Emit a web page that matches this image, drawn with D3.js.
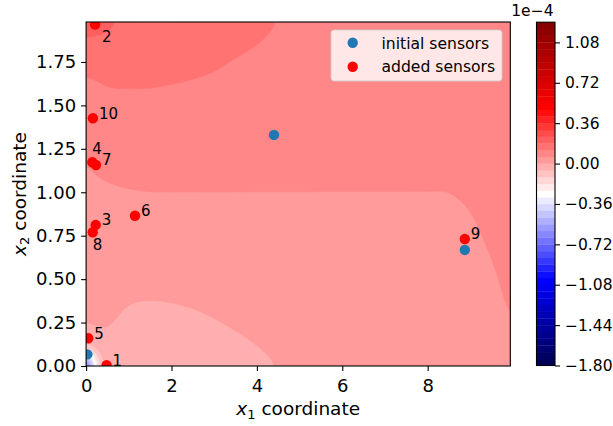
<!DOCTYPE html>
<html>
<head>
<meta charset="utf-8">
<script src="https://cdn.jsdelivr.net/npm/d3@7"></script>
<style>
  body { margin: 0; background: #fff; }
  svg { display: block; }
  text { font-family: "DejaVu Sans", sans-serif; fill: #000; white-space: pre; }
</style>
</head>
<body>
<svg id="chart" width="613" height="426"></svg>
<script>
// Sensitivity field (units of 1e-4) sampled on a coarse grid: one row per y node.
const xNodes = [0, 0.2, 0.5, 1, 1.5, 2, 2.5, 3, 3.5, 4, 4.5, 5, 5.5, 6, 6.5, 7, 7.5, 8, 8.5, 9, 9.5, 10];
const yNodes = [0, 0.1, 0.25, 0.5, 0.75, 1.0, 1.25, 1.5, 1.75, 2.0];
const fieldRows = [
  [-1.2, -0.15, -0.019, -0.035, -0.038, -0.036, -0.0325, -0.027, -0.019, -0.011, 0.0012, 0.008, 0.01, 0.01, 0.01, 0.01, 0.01, 0.01, 0.012, 0.015, 0.025, 0.075],
  [-0.06, -0.03, -0.009, -0.025, -0.028, -0.026, -0.0225, -0.017, -0.009, -0.001, 0.007, 0.013, 0.015, 0.015, 0.015, 0.015, 0.015, 0.015, 0.017, 0.02, 0.0306, 0.057],
  [0.003, 0.006, 0.004, -0.010, -0.013, -0.011, -0.0075, -0.002, 0.0044, 0.0094, 0.0159, 0.021, 0.0225, 0.0225, 0.0225, 0.0225, 0.0225, 0.0225, 0.024, 0.0276, 0.0391, 0.065],
  [0.018, 0.021, 0.021, 0.013, 0.012, 0.013, 0.0156, 0.019, 0.023, 0.0263, 0.0306, 0.034, 0.035, 0.035, 0.035, 0.035, 0.035, 0.035, 0.036, 0.0397, 0.0532, 0.075],
  [0.033, 0.036, 0.038, 0.036, 0.036, 0.037, 0.038, 0.0395, 0.0415, 0.0431, 0.0453, 0.047, 0.0474, 0.0474, 0.0474, 0.0474, 0.0474, 0.0474, 0.048, 0.0521, 0.067, 0.085],
  [0.048, 0.0515, 0.0546, 0.058, 0.0598, 0.0598, 0.0598, 0.0598, 0.0598, 0.0598, 0.0598, 0.0598, 0.0598, 0.0598, 0.0598, 0.0598, 0.0598, 0.0598, 0.0595, 0.065, 0.078, 0.092],
  [0.064, 0.0727, 0.079, 0.084, 0.085, 0.084, 0.083, 0.081, 0.079, 0.0772, 0.0752, 0.074, 0.072, 0.072, 0.072, 0.072, 0.072, 0.072, 0.072, 0.078, 0.086, 0.098],
  [0.0975, 0.098, 0.107, 0.110, 0.110, 0.108, 0.106, 0.103, 0.0985, 0.0945, 0.0903, 0.088, 0.085, 0.085, 0.085, 0.085, 0.085, 0.085, 0.085, 0.09, 0.094, 0.103],
  [0.13, 0.135, 0.14, 0.136, 0.1355, 0.133, 0.1295, 0.125, 0.1177, 0.1117, 0.1055, 0.102, 0.097, 0.097, 0.097, 0.097, 0.097, 0.097, 0.097, 0.1, 0.102, 0.107],
  [0.22, 0.21, 0.2, 0.161, 0.1605, 0.158, 0.1545, 0.150, 0.142, 0.133, 0.1206, 0.114, 0.11, 0.11, 0.11, 0.11, 0.11, 0.11, 0.11, 0.11, 0.11, 0.11]
];

// Contour levels: -1.80 .. 1.26 in steps of 0.06
const levelMin = -1.80, levelStep = 0.06, levelCount = 52;

// Sensor locations (x1, x2)
const initialSensors = [[4.40, 1.33], [8.87, 0.668], [0.03, 0.067]];
const addedSensors = [
  [0.48, 0.005], [0.21, 1.965], [0.225, 0.812], [0.145, 1.173], [0.05, 0.16],
  [1.145, 0.865], [0.232, 1.157], [0.155, 0.77], [8.87, 0.731], [0.16, 1.426]
];
const addedLabels = ["1", "2", "3", "4", "5", "6", "7", "8", "9", "10"];

const xTicks = [0, 2, 4, 6, 8];
const yTicks = [0, 0.25, 0.5, 0.75, 1.0, 1.25, 1.5, 1.75];
const legendLabels = ["initial sensors", "added sensors"];

// ---------------------------------------------------------------
const svg = d3.select("#chart");
const xMax = 9.935, yMax = 1.98;
const plot = { left: 86.1, right: 510.3, top: 22, bottom: 366 };
const x = d3.scaleLinear([0, xMax], [plot.left, plot.right]);
const y = d3.scaleLinear([0, yMax], [plot.bottom, plot.top]);

const levels = d3.range(levelCount).map(i => Math.round((levelMin + i * levelStep) * 100) / 100 + 0);
const vmin = levels[0], vmax = levels[levels.length - 1];
const seismic = d3.scaleLinear()
  .domain([0, 0.25, 0.5, 0.75, 1])
  .range(["rgb(0,0,77)", "rgb(0,0,255)", "rgb(255,255,255)", "rgb(255,0,0)", "rgb(128,0,0)"]);
const bandColor = i => seismic(((levels[i] + levels[i + 1]) / 2 - vmin) / (vmax - vmin));

// Bilinear lookup on the non-uniform node grid
function sampleField(xv, yv) {
  const i = Math.max(0, Math.min(xNodes.length - 2, d3.bisectRight(xNodes, xv) - 1));
  const j = Math.max(0, Math.min(yNodes.length - 2, d3.bisectRight(yNodes, yv) - 1));
  const tx = (xv - xNodes[i]) / (xNodes[i + 1] - xNodes[i]);
  const ty = (yv - yNodes[j]) / (yNodes[j + 1] - yNodes[j]);
  const a = fieldRows[j][i], b = fieldRows[j][i + 1];
  const c = fieldRows[j + 1][i], d = fieldRows[j + 1][i + 1];
  return (a * (1 - tx) + b * tx) * (1 - ty) + (c * (1 - tx) + d * tx) * ty;
}

function boxBlur(vals, w, h, r) {
  const tmp = new Float64Array(w * h), out = new Float64Array(w * h);
  const n = 2 * r + 1;
  for (let j = 0; j < h; j++) {
    for (let i = 0; i < w; i++) {
      let s = 0;
      for (let k = -r; k <= r; k++) s += vals[j * w + Math.min(w - 1, Math.max(0, i + k))];
      tmp[j * w + i] = s / n;
    }
  }
  for (let j = 0; j < h; j++) {
    for (let i = 0; i < w; i++) {
      let s = 0;
      for (let k = -r; k <= r; k++) s += tmp[Math.min(h - 1, Math.max(0, j + k)) * w + i];
      out[j * w + i] = s / n;
    }
  }
  return out;
}

const nx = 212, ny = 172;
const dx = xMax / nx, dy = yMax / ny;
let grid = new Float64Array(nx * ny);
for (let jj = 0; jj < ny; jj++) {
  const yv = yMax - (jj + 0.5) * dy;
  for (let ii = 0; ii < nx; ii++) grid[jj * nx + ii] = sampleField((ii + 0.5) * dx, yv);
}
grid = boxBlur(grid, nx, ny, 3);
grid = boxBlur(grid, nx, ny, 3);

const contours = d3.contours().size([nx, ny]).thresholds(levels.slice(0, -1))(Array.from(grid));
const proj = d3.geoTransform({
  point(px, py) { this.stream.point(x(px * dx), y(yMax - py * dy)); }
});
const geoPath = d3.geoPath(proj);

svg.append("defs").append("clipPath").attr("id", "plotClip")
  .append("rect")
  .attr("x", plot.left).attr("y", plot.top)
  .attr("width", plot.right - plot.left).attr("height", plot.bottom - plot.top);

const field = svg.append("g").attr("clip-path", "url(#plotClip)");
field.append("rect")
  .attr("x", plot.left).attr("y", plot.top)
  .attr("width", plot.right - plot.left).attr("height", plot.bottom - plot.top)
  .attr("fill", bandColor(0));
field.selectAll("path.band")
  .data(contours)
  .join("path")
  .attr("class", "band")
  .attr("d", geoPath)
  .attr("fill", (d, i) => bandColor(i))
  .attr("stroke", (d, i) => bandColor(i))
  .attr("stroke-width", 0.4);

// Sensors
const marks = svg.append("g").attr("clip-path", "url(#plotClip)");
marks.selectAll("circle.init")
  .data(initialSensors)
  .join("circle")
  .attr("class", "init")
  .attr("cx", d => x(d[0])).attr("cy", d => y(d[1]))
  .attr("r", 5.2).attr("fill", "#1f77b4");
marks.selectAll("circle.added")
  .data(addedSensors)
  .join("circle")
  .attr("class", "added")
  .attr("cx", d => x(d[0])).attr("cy", d => y(d[1]))
  .attr("r", 5.2).attr("fill", "#ff0000");

// Sensor numbering (a few labels sit below or above their dot)
const labelShift = { "2": [7, 17.5], "4": [0, -8], "8": [0, 17.7] };
svg.append("g").selectAll("text")
  .data(addedSensors)
  .join("text")
  .attr("x", (d, i) => x(d[0]) + (labelShift[addedLabels[i]] || [6, 0.5])[0])
  .attr("y", (d, i) => y(d[1]) + (labelShift[addedLabels[i]] || [6, 0.5])[1])
  .attr("font-size", 15)
  .text((d, i) => addedLabels[i]);

// Frame
svg.append("rect")
  .attr("x", plot.left).attr("y", plot.top)
  .attr("width", plot.right - plot.left).attr("height", plot.bottom - plot.top)
  .attr("fill", "none").attr("stroke", "#000").attr("stroke-width", 1.1);

// Axes
const xAxis = svg.append("g")
  .attr("transform", `translate(0,${plot.bottom})`)
  .call(d3.axisBottom(x).tickValues(xTicks).tickFormat(d3.format("d")).tickSize(5).tickPadding(8.5).tickSizeOuter(0));
const yAxis = svg.append("g")
  .attr("transform", `translate(${plot.left},0)`)
  .call(d3.axisLeft(y).tickValues(yTicks).tickFormat(d3.format(".2f")).tickSize(5).tickPadding(5).tickSizeOuter(0));
[xAxis, yAxis].forEach(g => {
  g.select(".domain").remove();
  g.selectAll(".tick line").attr("stroke", "#000").attr("stroke-width", 1.1);
  g.selectAll(".tick text").attr("font-size", 18).attr("font-family", "DejaVu Sans").attr("fill", "#000");
});

// Axis titles
const xTitle = svg.append("text")
  .attr("x", (plot.left + plot.right) / 2).attr("y", 415)
  .attr("text-anchor", "middle").attr("font-size", 18.5);
xTitle.append("tspan").attr("font-style", "italic").text("x");
xTitle.append("tspan").attr("font-size", 13).attr("dy", 3.5).text("1");
xTitle.append("tspan").attr("dy", -3.5).text(" coordinate");

const yTitle = svg.append("text")
  .attr("transform", `translate(25.5,${(plot.top + plot.bottom) / 2}) rotate(-90)`)
  .attr("text-anchor", "middle").attr("font-size", 18.5);
yTitle.append("tspan").attr("font-style", "italic").text("x");
yTitle.append("tspan").attr("font-size", 13).attr("dy", 3.5).text("2");
yTitle.append("tspan").attr("dy", -3.5).text(" coordinate");

// Legend
const legend = svg.append("g");
legend.append("rect")
  .attr("x", 331).attr("y", 30).attr("width", 171).attr("height", 51).attr("rx", 3)
  .attr("fill", "#fff").attr("fill-opacity", 0.8)
  .attr("stroke", "#cccccc").attr("stroke-opacity", 0.8);
const legendColors = ["#1f77b4", "#ff0000"];
legendLabels.forEach((lab, i) => {
  legend.append("circle").attr("cx", 352.7).attr("cy", 42.7 + i * 24).attr("r", 5.2).attr("fill", legendColors[i]);
  legend.append("text").attr("x", 381.5).attr("y", 48.5 + i * 23.5).attr("font-size", 15.6).text(lab);
});

// Colorbar
const cb = { left: 536.5, right: 555, top: 22.2, bottom: 365.5 };
const cy = d3.scaleLinear([vmin, vmax], [cb.bottom, cb.top]);
svg.append("g").selectAll("rect")
  .data(d3.range(levels.length - 1))
  .join("rect")
  .attr("x", cb.left).attr("width", cb.right - cb.left)
  .attr("y", i => cy(levels[i + 1]))
  .attr("height", i => cy(levels[i]) - cy(levels[i + 1]) + 0.3)
  .attr("fill", i => bandColor(i));
svg.append("rect")
  .attr("x", cb.left).attr("y", cb.top)
  .attr("width", cb.right - cb.left).attr("height", cb.bottom - cb.top)
  .attr("fill", "none").attr("stroke", "#000").attr("stroke-width", 1.1);
const cbarTicks = levels.filter((d, i) => i % 6 === 0);
const cAxis = svg.append("g")
  .attr("transform", `translate(${cb.right},0)`)
  .call(d3.axisRight(cy).tickValues(cbarTicks).tickFormat(d3.format(".2f")).tickSize(5).tickPadding(5).tickSizeOuter(0));
cAxis.select(".domain").remove();
cAxis.selectAll(".tick line").attr("stroke", "#000").attr("stroke-width", 1.1);
cAxis.selectAll(".tick text").attr("font-size", 15.5).attr("font-family", "DejaVu Sans").attr("fill", "#000");
svg.append("text")
  .attr("x", 553.5).attr("y", 15.5).attr("text-anchor", "end").attr("font-size", 15.5)
  .text("1e\u22124");
</script>
</body>
</html>
